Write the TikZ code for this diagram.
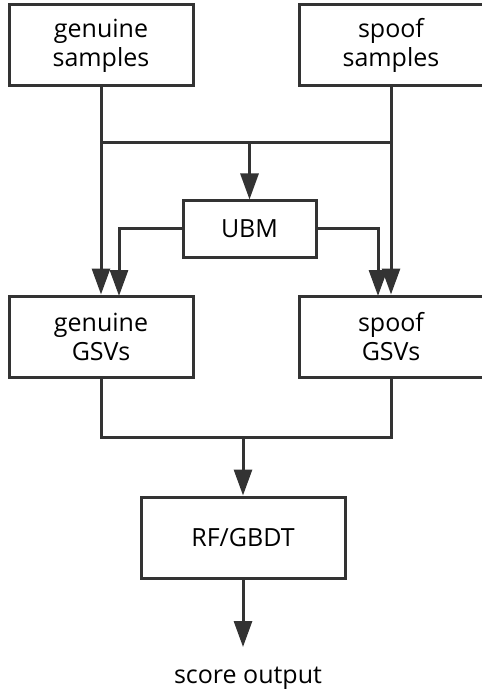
\documentclass[tikz,border=0pt]{standalone}
\usepackage{fontspec}
\setmainfont{Open Sans}
\usetikzlibrary{arrows.meta}
\definecolor{ink}{HTML}{333333}
\begin{document}
\begin{tikzpicture}[x=1pt,y=-1pt,
  box/.style={draw=ink, line width=3pt, inner sep=0pt, align=center,
    text=black, font=\fontsize{25}{29}\selectfont},
  wire/.style={draw=ink, line width=3pt},
  arr/.style={wire, -{Triangle[length=26pt,width=18pt]}},
  lbl/.style={text=black, font=\fontsize{25}{29}\selectfont}]
\useasboundingbox (0,0) rectangle (481,692);
\node[box, minimum width=184pt, minimum height=81pt] (gs) at (101,45.5) {genuine\\samples};
\node[box, minimum width=184pt, minimum height=81pt] (ss) at (391,45.5) {spoof\\samples};
\node[box, minimum width=133pt, minimum height=56pt] (ubm) at (249.5,229) {UBM};
\node[box, minimum width=184pt, minimum height=81pt] (gv) at (101,336.5) {genuine\\GSVs};
\node[box, minimum width=184pt, minimum height=81pt] (sv) at (391,336.5) {spoof\\GSVs};
\node[box, minimum width=204pt, minimum height=81pt] (rf) at (243,537.5) {RF/GBDT};
\node[lbl] (out) at (248,678) {score output};
\coordinate (busl) at (101,143);
\coordinate (busr) at (391,143);
\coordinate (busm) at (249.5,143);
\coordinate (ul) at (119,296);
\coordinate (ur) at (378,296);
\coordinate (bl) at (101,437);
\coordinate (br) at (391,437);
\coordinate (bm) at (243,437);
\coordinate (tip) at (243,647);
\draw[arr] (gs.south) -- (gv.north);
\draw[arr] (ss.south) -- (sv.north);
\draw[wire] (busl) -- (busr);
\draw[arr] (busm) -- (ubm.north);
\draw[arr] (ubm.west) -| (ul);
\draw[arr] (ubm.east) -| (ur);
\draw[wire] (gv.south) -- (bl) -- (br) -- (sv.south);
\draw[arr] (bm) -- (rf.north);
\draw[arr] (rf.south) -- (tip);
\end{tikzpicture}
\end{document}
